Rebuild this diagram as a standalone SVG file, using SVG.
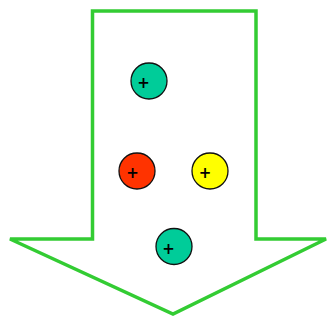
<svg xmlns="http://www.w3.org/2000/svg" width="328" height="320" viewBox="0 0 328 320">
<style>
.arrow{fill:#fff;stroke:#33cc33;stroke-width:3.5;stroke-linejoin:miter}
.ion{stroke:#111;stroke-width:1.3}
.plus{font-family:"DejaVu Sans",sans-serif;font-size:15px;font-weight:bold;fill:#000;text-anchor:middle}
</style>
<rect width="328" height="320" fill="#fff"/>
<g id="arrow">
<polygon class="arrow" points="92.5,11 256,11 256,239 326,239 173,314 10,239 92.5,239"/>
</g>
<g id="ion1"><circle class="ion" cx="149" cy="81" r="18" fill="#00cc99"/><text class="plus" x="143.5" y="87.5">+</text></g>
<g id="ion2"><circle class="ion" cx="137" cy="171" r="18" fill="#ff3300"/><text class="plus" x="132.5" y="177.5">+</text></g>
<g id="ion3"><circle class="ion" cx="210" cy="171" r="18" fill="#ffff00"/><text class="plus" x="205" y="177.5">+</text></g>
<g id="ion4"><circle class="ion" cx="174" cy="246.5" r="18" fill="#00cc99"/><text class="plus" x="168.5" y="254">+</text></g>
<g id="connectors"></g>
</svg>
